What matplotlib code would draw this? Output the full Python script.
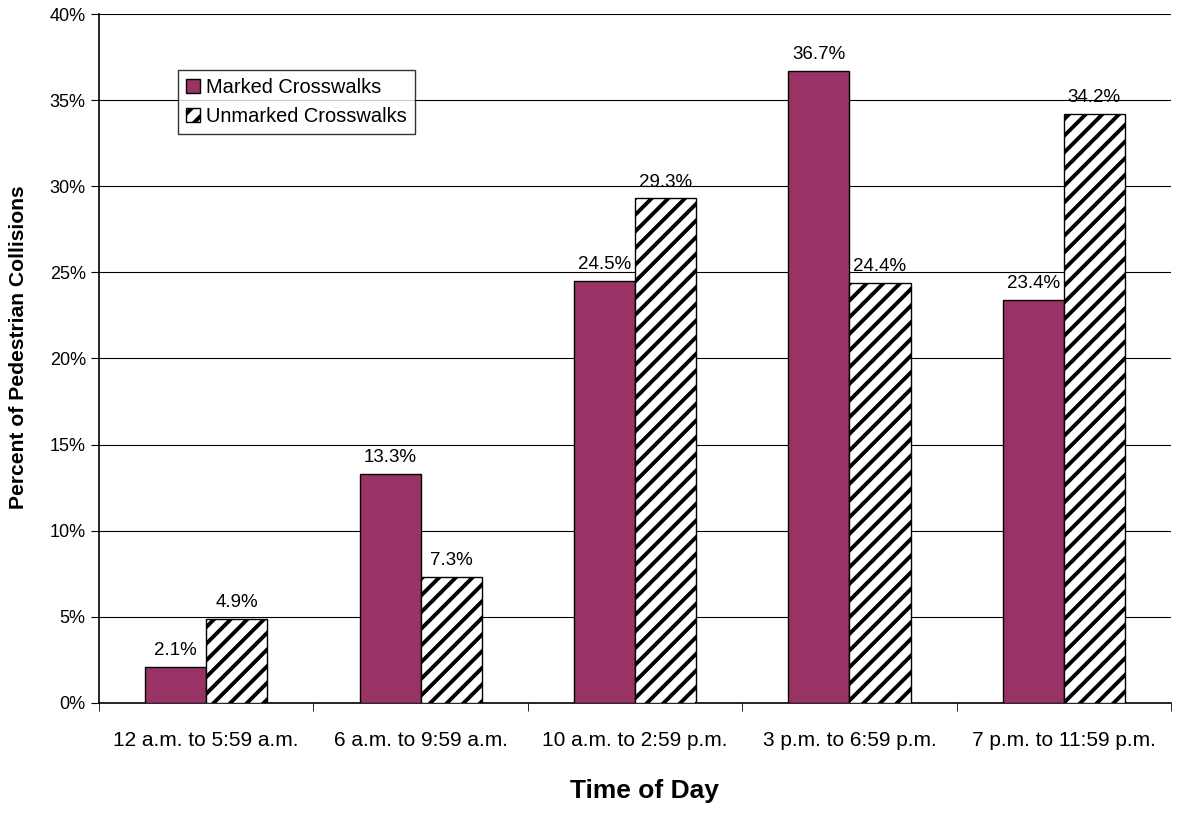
import numpy as np
import matplotlib.pyplot as plt
from matplotlib.ticker import FuncFormatter

plt.rcParams['font.family'] = ['Liberation Sans', 'DejaVu Sans']
plt.rcParams['hatch.linewidth'] = 2.8

categories = ['12 a.m. to 5:59 a.m.', '6 a.m. to 9:59 a.m.', '10 a.m. to 2:59 p.m.',
              '3 p.m. to 6:59 p.m.', '7 p.m. to 11:59 p.m.']
marked = [2.1, 13.3, 24.5, 36.7, 23.4]
unmarked = [4.9, 7.3, 29.3, 24.4, 34.2]

fig = plt.figure(figsize=(11.8, 8.14), dpi=100)
ax = fig.add_axes([0.0839, 0.1364, 0.9085, 0.8464])

x = np.arange(len(categories))
w = 0.285
b1 = ax.bar(x - w/2, marked, w, color='#993366', edgecolor='black', linewidth=1,
            label='Marked Crosswalks', zorder=3)
b2 = ax.bar(x + w/2, unmarked, w, color='white', edgecolor='black', linewidth=1,
            hatch='//', label='Unmarked Crosswalks', zorder=3)

for rect, v in zip(b1, marked):
    ax.text(rect.get_x() + rect.get_width()/2, v + 0.45, f'{v:.1f}%',
            ha='center', va='bottom', fontsize=13.5)
for rect, v in zip(b2, unmarked):
    ax.text(rect.get_x() + rect.get_width()/2, v + 0.45, f'{v:.1f}%',
            ha='center', va='bottom', fontsize=13.5)

ax.set_xlim(-0.5, len(categories) - 0.5)
ax.set_ylim(0, 40)
ax.set_yticks(np.arange(0, 41, 5))
ax.yaxis.set_major_formatter(FuncFormatter(lambda v, p: f'{v:.0f}%'))
ax.yaxis.grid(True, color='black', linewidth=0.8, zorder=0)
ax.set_axisbelow(True)

ax.set_xticks(x)
ax.set_xticklabels(categories, fontsize=15)
ax.tick_params(axis='x', length=0, pad=20)
ax.set_xticks(np.arange(-0.5, len(categories)), minor=True)
ax.tick_params(axis='x', which='minor', length=6, direction='out')
ax.tick_params(axis='y', labelsize=13, length=6, direction='out')

for s in ['left', 'bottom']:
    ax.spines[s].set_linewidth(1.2)
ax.spines['right'].set_visible(False)
ax.spines['top'].set_visible(False)

ax.set_xlabel('Time of Day', fontsize=19, fontweight='bold')
ax.xaxis.set_label_coords(0.509, -0.110)
ax.set_ylabel('Percent of Pedestrian Collisions', fontsize=15.2, fontweight='bold')
ax.yaxis.set_label_coords(-0.0665, 0.517)

leg = ax.legend(loc='upper left', bbox_to_anchor=(0.0737, 0.919), fontsize=14.4,
                frameon=True, fancybox=False, edgecolor='black', handlelength=0.7,
                handleheight=0.7, handletextpad=0.3, borderpad=0.4, labelspacing=0.5,
                borderaxespad=0)
leg.get_frame().set_linewidth(1)
leg.set_zorder(5)

fig.savefig('out.png', dpi=100)
